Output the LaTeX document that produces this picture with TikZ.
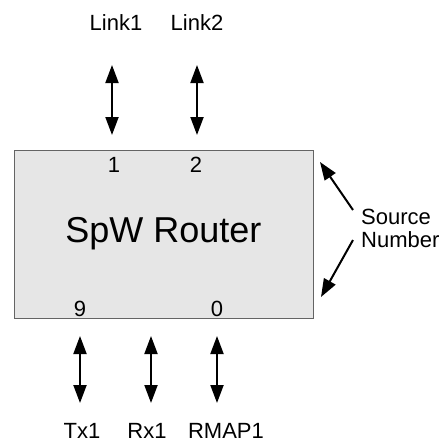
\documentclass[tikz,border=0pt]{standalone}
\usepackage{fontspec}
\setmainfont{Liberation Sans}
\usetikzlibrary{arrows.meta,positioning}
\definecolor{rtrfill}{RGB}{230,230,230}
\definecolor{rtrline}{RGB}{100,100,100}
\tikzset{
  rtr/.style={draw=rtrline,fill=rtrfill,line width=1pt,
              minimum width=299pt,minimum height=168pt,inner sep=0pt,
              font=\fontsize{36}{40}\selectfont},
  portlbl/.style={font=\fontsize{22}{23}\selectfont,inner sep=0pt,anchor=base},
  portnum/.style={portlbl},
  darr/.style={{Triangle[length=18pt,width=13pt]}-{Triangle[length=18pt,width=13pt]},
               line width=2pt},
  sarr/.style={-{Triangle[length=18pt,width=13pt]},line width=2pt},
}

\begin{document}
\begin{tikzpicture}[x=1pt,y=-1pt]
\useasboundingbox (0,0) rectangle (447,445);

% router box
\node[rtr] (rtr) at (163.5,234) {SpW Router\hspace{9pt}};

% port numbers
\node[portnum] (n1) at (114,172) {1};
\node[portnum] (n2) at (196,172) {2};
\node[portnum] (n9) at (80,316) {9};
\node[portnum] (n0) at (217,316) {0};

% link labels
\node[portlbl] (link1) at (116,30) {Link1};
\node[portlbl] (link2) at (197,30) {Link2};
\node[portlbl] (tx1)   at (82,438) {Tx1};
\node[portlbl] (rx1)   at (147,438) {Rx1};
\node[portlbl] (rmap1) at (226,438) {RMAP1};
\node[portlbl,align=left,anchor=west] (src) at (361,228) {Source\\Number};

% arrow ends
\coordinate (l1t) at (112,65);  \coordinate (l1b) at (112,135);
\coordinate (l2t) at (197,65);  \coordinate (l2b) at (197,135);
\coordinate (txt) at (80,336);  \coordinate (txb) at (80,403);
\coordinate (rxt) at (151,336); \coordinate (rxb) at (151,403);
\coordinate (rmt) at (217,336); \coordinate (rmb) at (217,403);
\coordinate (srcu) at (353,210); \coordinate (srcl) at (353,240);
\coordinate (srcut) at (320,162); \coordinate (srclt) at (321,297);

\draw[darr] (l1t) -- (l1b);
\draw[darr] (l2t) -- (l2b);
\draw[darr] (txt) -- (txb);
\draw[darr] (rxt) -- (rxb);
\draw[darr] (rmt) -- (rmb);
\draw[sarr] (srcu) -- (srcut);
\draw[sarr] (srcl) -- (srclt);
\end{tikzpicture}
\end{document}
